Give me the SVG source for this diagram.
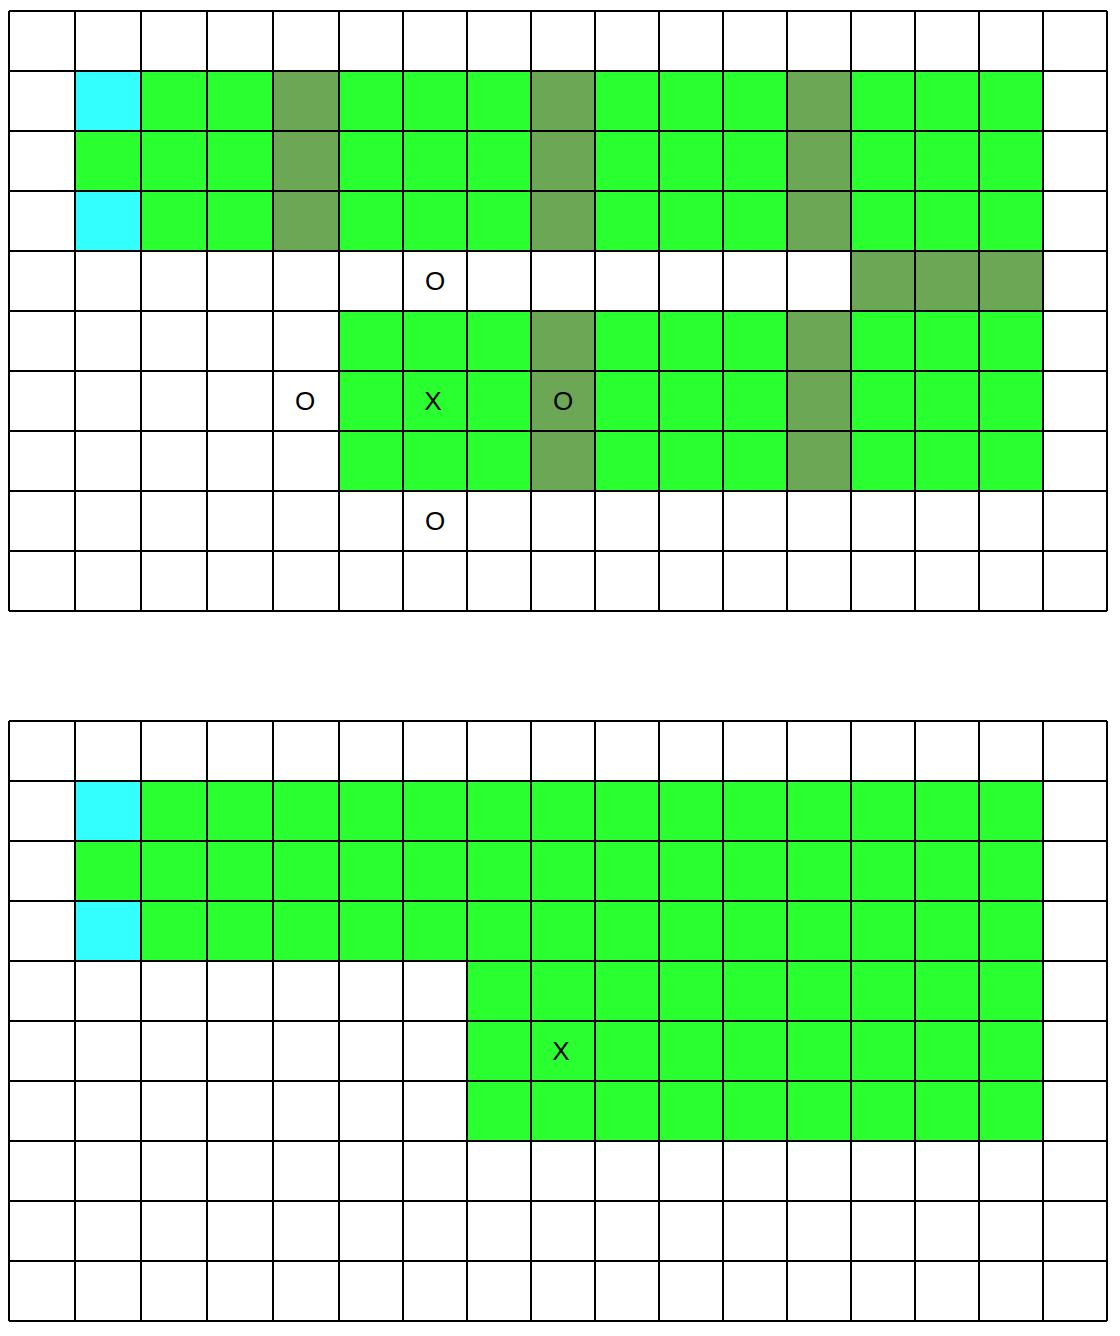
<svg xmlns="http://www.w3.org/2000/svg" width="1120" height="1336" viewBox="0 0 1120 1336">
  <style>
    .c { fill: #33ffff; }
    .g { fill: #2aff30; }
    .d { fill: #6ca755; }
    .grid { fill: none; stroke: #000; stroke-width: 2; }
    .t { font-family: "Liberation Sans", Arial, sans-serif; font-size: 26px; fill: #000; text-anchor: middle; }
  </style>
  <rect width="1120" height="1336" fill="#fff"/>

  <g id="top-grid">
    <g id="top-fills">
      <rect class="g" x="75" y="71" width="968" height="180"/>
      <rect class="c" x="75" y="71" width="66" height="60"/>
      <rect class="c" x="75" y="191" width="66" height="60"/>
      <rect class="d" x="273" y="71" width="66" height="180"/>
      <rect class="d" x="531" y="71" width="64" height="180"/>
      <rect class="d" x="787" y="71" width="64" height="180"/>
      <rect class="d" x="851" y="251" width="192" height="60"/>
      <rect class="g" x="339" y="311" width="704" height="180"/>
      <rect class="d" x="531" y="311" width="64" height="180"/>
      <rect class="d" x="787" y="311" width="64" height="180"/>
    </g>
    <path class="grid" d="M9 11H1107M9 71H1107M9 131H1107M9 191H1107M9 251H1107M9 311H1107M9 371H1107M9 431H1107M9 491H1107M9 551H1107M9 611H1107
      M9 11V611M75 11V611M141 11V611M207 11V611M273 11V611M339 11V611M403 11V611M467 11V611M531 11V611M595 11V611M659 11V611M723 11V611M787 11V611M851 11V611M915 11V611M979 11V611M1043 11V611M1107 11V611"/>
    <g id="top-labels">
      <text class="t" x="435" y="290">O</text>
      <text class="t" x="305" y="410">O</text>
      <text class="t" x="433" y="410">X</text>
      <text class="t" x="563" y="410">O</text>
      <text class="t" x="435" y="530">O</text>
    </g>
  </g>

  <g id="bottom-grid">
    <g id="bottom-fills">
      <rect class="g" x="75" y="781" width="968" height="180"/>
      <rect class="c" x="75" y="781" width="66" height="60"/>
      <rect class="c" x="75" y="901" width="66" height="60"/>
      <rect class="g" x="467" y="961" width="576" height="180"/>
    </g>
    <path class="grid" d="M9 721H1107M9 781H1107M9 841H1107M9 901H1107M9 961H1107M9 1021H1107M9 1081H1107M9 1141H1107M9 1201H1107M9 1261H1107M9 1321H1107
      M9 721V1321M75 721V1321M141 721V1321M207 721V1321M273 721V1321M339 721V1321M403 721V1321M467 721V1321M531 721V1321M595 721V1321M659 721V1321M723 721V1321M787 721V1321M851 721V1321M915 721V1321M979 721V1321M1043 721V1321M1107 721V1321"/>
    <g id="bottom-labels">
      <text class="t" x="561" y="1060">X</text>
    </g>
  </g>
</svg>
